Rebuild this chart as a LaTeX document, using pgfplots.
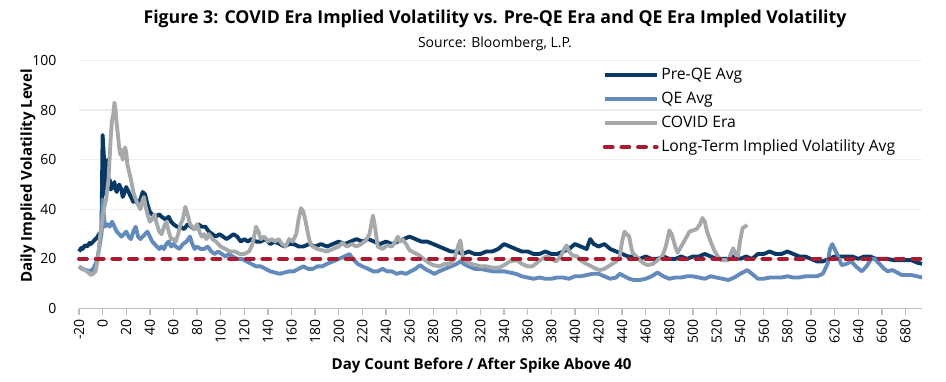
\documentclass[border=0pt]{standalone}
\usepackage{fontspec}
\setmainfont{Open Sans}
\usepackage{pgfplots}
\usepackage{pgfplotstable}
\pgfplotsset{compat=1.18}
\definecolor{preqe}{RGB}{8,56,100}
\definecolor{qe}{RGB}{98,138,186}
\definecolor{covid}{RGB}{166,169,172}
\definecolor{ltred}{RGB}{168,28,50}
\definecolor{gridgray}{RGB}{238,238,238}
\definecolor{axisgray}{RGB}{190,190,190}

\pgfplotstableread{
x y
-20 23
-18 24.5
-17 24
-15 25.5
-13 25
-11 26.5
-10 26
-8 27
-6 28
-5 28.5
-3 30
-1 31
0 70
1 62
2 46
3 55
4 60
5 48
6 52
7 48
8 49
10 51
11 48
12 47
14 50
16 48
17 45
18 46
20 49
22 47
24 45
26 43
28 44
30 42
32 44
34 47
36 46
38 42
40 39
42 38
45 37
48 38
50 37
53 36
56 37
58 35
60 34
63 33
66 33
69 32
72 34
75 33
78 32
81 34
84 33
87 33
90 31
93 30
96 29
99 30
102 29
105 28
108 29
111 30
114 29
117 27
120 28
123 27
126 28
130 27
134 27
138 28
142 26
146 27
150 26
154 25
158 26
162 26
166 25
170 25
175 26
180 25
185 26
190 25
195 26
200 27
205 26
210 27
215 28
220 27
225 28
230 27
235 26
240 27
245 26
250 27
255 28
260 29
265 28
270 27
275 27
280 26
285 25
290 24
295 23
300 23
305 22
310 23
315 22
320 22
325 23
330 23
335 24
340 26
345 25
350 24
355 23
360 23
365 22
370 22
375 23
380 22
385 22
390 23
395 24
400 26
405 25
410 24
413 28
416 26
420 25
425 26
430 24
435 23
440 22
445 21
450 21
455 20
460 21
465 20
470 20
475 21
480 20
485 20
490 21
495 20
500 21
505 21
510 22
515 21
520 20
525 20
530 20
535 21
540 20
545 21
550 20
555 22
560 22
565 23
570 22
575 22
580 23
585 22
590 21
595 21
600 20
605 19
610 19
615 20
620 21
625 21
630 21
635 21
640 20
645 21
650 21
655 20
660 20
665 20
670 19.5
675 19.5
680 19.5
685 19.5
690 18.5
694 18
}\preqedata

\pgfplotstableread{
x y
-20 17
-17 16
-14 15.5
-11 15
-8 16
-5 19
-3 24
-1 30
0 44
1 38
2 33
4 34
6 33
8 35
10 33
12 31
14 30
16 29
18 30
20 31
22 29
24 28
26 31
28 33
30 29
32 28
34 29
36 30
38 31
40 29
42 27
44 26
46 25
48 24
50 25
52 24
54 26
56 27
58 25
60 26
62 25
65 24
68 26
71 27
74 29
76 26
78 24
80 25
83 24
86 24
89 25
92 23
95 22
98 23
101 22
104 21
107 22
110 21
114 20
118 20
122 19
126 18
130 17
134 17
138 16
142 15
146 14.5
150 14
154 14.5
158 15
162 15
166 16
170 17
174 16
178 16
182 17
186 17
190 18
195 19
200 20
205 21
209 22
212 20
216 18
220 17
225 16
229 15
233 15
237 16
241 15
245 15
249 14
253 14.5
257 14
261 15
265 16
269 17.5
273 16
277 15
281 14
285 15
290 16
295 17
300 18
303 19
306 18
310 17
315 16
320 16
325 15.5
330 15
335 15
340 15
345 14.5
350 14
355 13
360 12.5
365 12
370 12.5
375 12
380 12
385 12.5
390 12.5
395 12
400 13
405 13
410 13.5
415 14
420 14
425 13
430 12
435 12.5
438 14
442 13
446 12
450 11.5
455 11.5
460 12
465 13
470 14.5
475 13
480 12
485 12.5
490 12.5
495 13
500 13
505 12.5
510 12
515 13
520 12.5
525 12
530 11.5
535 12.5
540 14
546 15.5
550 14
555 12
560 12
565 12.5
570 12.5
575 12.5
580 13
585 12.5
590 12.5
595 13
600 13
605 13
610 14
614 18
616 24
618 26
620 24
622 22
626 17.5
630 18
634 19
638 17
643 15
647 17
651 20
654 20
658 18
662 16
665 15
669 15.5
673 14.5
677 13.5
681 13.5
685 13.5
690 13
694 12.5
}\qedata

\pgfplotstableread{
x y
-20 17
-18 16
-15 15.5
-12 14.5
-10 13.5
-8 14
-6 15
-4 20
-2 30
0 36
1 40
3 44
5 52
7 70
8 76
9 78
10 83
11 80
12 74
13 70
14 65
15 62
16 64
17 60
18 63
19 65
20 63
21 58
22 56
24 52
26 47
28 44
30 42
32 40
34 44
35 45
36 42
38 38
40 35
42 36
44 38
46 34
48 31
50 30
52 33
54 35
56 31
58 28
60 28
62 27
64 30
66 34
68 36
70 41
72 38
74 34
76 33
78 32
80 34
82 31
84 29
86 30
88 28
90 30
93 28
96 27
100 25
104 24
108 23
112 23
116 22
120 22
124 23
127 26
130 33
132 31
134 28
137 29
140 27
143 28
146 27
149 28
152 26
155 25
158 28
161 27
164 30
166 36
168 40.5
170 39
172 35
174 30
176 26
178 25
182 24
186 23.5
190 23
195 24
200 25
203 26.5
207 25
211 26
215 25
219 26
223 27.5
226 30
229 37.5
231 32
233 25
237 24
241 25.5
245 25
248 27
250 29
252 27
254 28
257 26
260 23.5
264 22.5
268 21.5
272 20
276 18.5
280 17.5
285 17
290 18
294 18
298 20
301 25
303 27.5
305 21
308 19
312 18
316 17.5
320 17
325 17
330 16.5
336 16.5
340 17.5
345 19
351 19.5
355 18
360 17
364 17
368 18.5
372 20
376 21
380 20
384 19
388 21
391 24
393 25.5
395 23
398 21.5
402 21
406 19
410 18
414 17
418 16
421 15.5
425 16
430 17.5
435 19
438 21
440 27
442 31
444 30
446 29
448 24
449 22.5
452 21
455 19.5
459 18
462 17.5
466 18
470 19.5
474 21
477 25
480 31.5
482 30
485 25
487 22.5
490 25
493 27.5
497 31
500 31.5
503 32
506 34
508 36.5
510 35
512 31
515 27
518 23.5
521 21
524 19.5
527 19.5
530 19.5
532 22
534 24.3
536 22
538 21
540 27.5
542 32.4
544 33
546 33.7
}\coviddata

\begin{document}
\begin{tikzpicture}
\begin{axis}[
  at={(0,0)}, anchor=south west,
  scale only axis, width=632.25pt, height=186pt,
  xmin=-20, xmax=694, ymin=0, ymax=100,
  axis x line*=bottom, axis y line*=left,
  y axis line style={draw=none},
  x axis line style={color=axisgray, line width=1.1pt, -},
  xtick={-20,0,...,680}, ytick={0,20,...,100},
  ymajorgrids, major grid style={color=gridgray, line width=1pt},
  tick align=outside, xtick pos=bottom, ytick pos=left,
  y tick style={draw=none},
  x tick style={color=axisgray, line width=1pt},
  major tick length=4.5pt,
  /pgf/number format/assume math mode=true,
  ticklabel style={font=\fontsize{10.5}{12}\selectfont},
  xticklabel style={rotate=90, anchor=east},
  yticklabel style={xshift=-9pt},
  legend cell align=left,
  legend style={draw=none, fill=none, at={(0.621,0.99)}, anchor=north west,
    inner sep=0pt, row sep=0pt,
    nodes={font=\fontsize{11.8}{13}\selectfont, inner sep=2pt, text height=10pt, text depth=4pt}},
  legend image code/.code={\draw[#1] (0pt,0pt) -- (39pt,0pt);},
  every axis plot/.append style={line width=2.9pt, line join=round},
  clip=false,
]
\addplot[preqe] table {\preqedata};
\addlegendentry{Pre-QE Avg}
\addplot[qe] table {\qedata};
\addlegendentry{QE Avg}
\addplot[covid] table {\coviddata};
\addlegendentry{COVID Era}
\addplot[ltred, line cap=round, dash pattern=on 6pt off 6.5pt] coordinates {(-20,20) (694,20)};
\addlegendentry{Long-Term Implied Volatility Avg}
\end{axis}
\node[font=\bfseries\fontsize{13.3}{15}\selectfont] at (312pt,217pt) {Figure 3: COVID Era Implied Volatility vs. Pre-QE Era and QE Era Impled Volatility};
\node[font=\fontsize{10.5}{12}\selectfont] at (312pt,198.4pt) {Source: Bloomberg, L.P.};
\node[font=\bfseries\fontsize{11.3}{13}\selectfont, rotate=90] at (-38.25pt,99.4pt) {Daily Implied Volatility Level};
\node[font=\bfseries\fontsize{11.3}{13}\selectfont] at (302pt,-42.4pt) {Day Count Before / After Spike Above 40};
\pgfresetboundingbox
\path[use as bounding box] (-59.25pt,-54.4pt) rectangle (650.25pt,231.4pt);
\end{tikzpicture}
\end{document}
